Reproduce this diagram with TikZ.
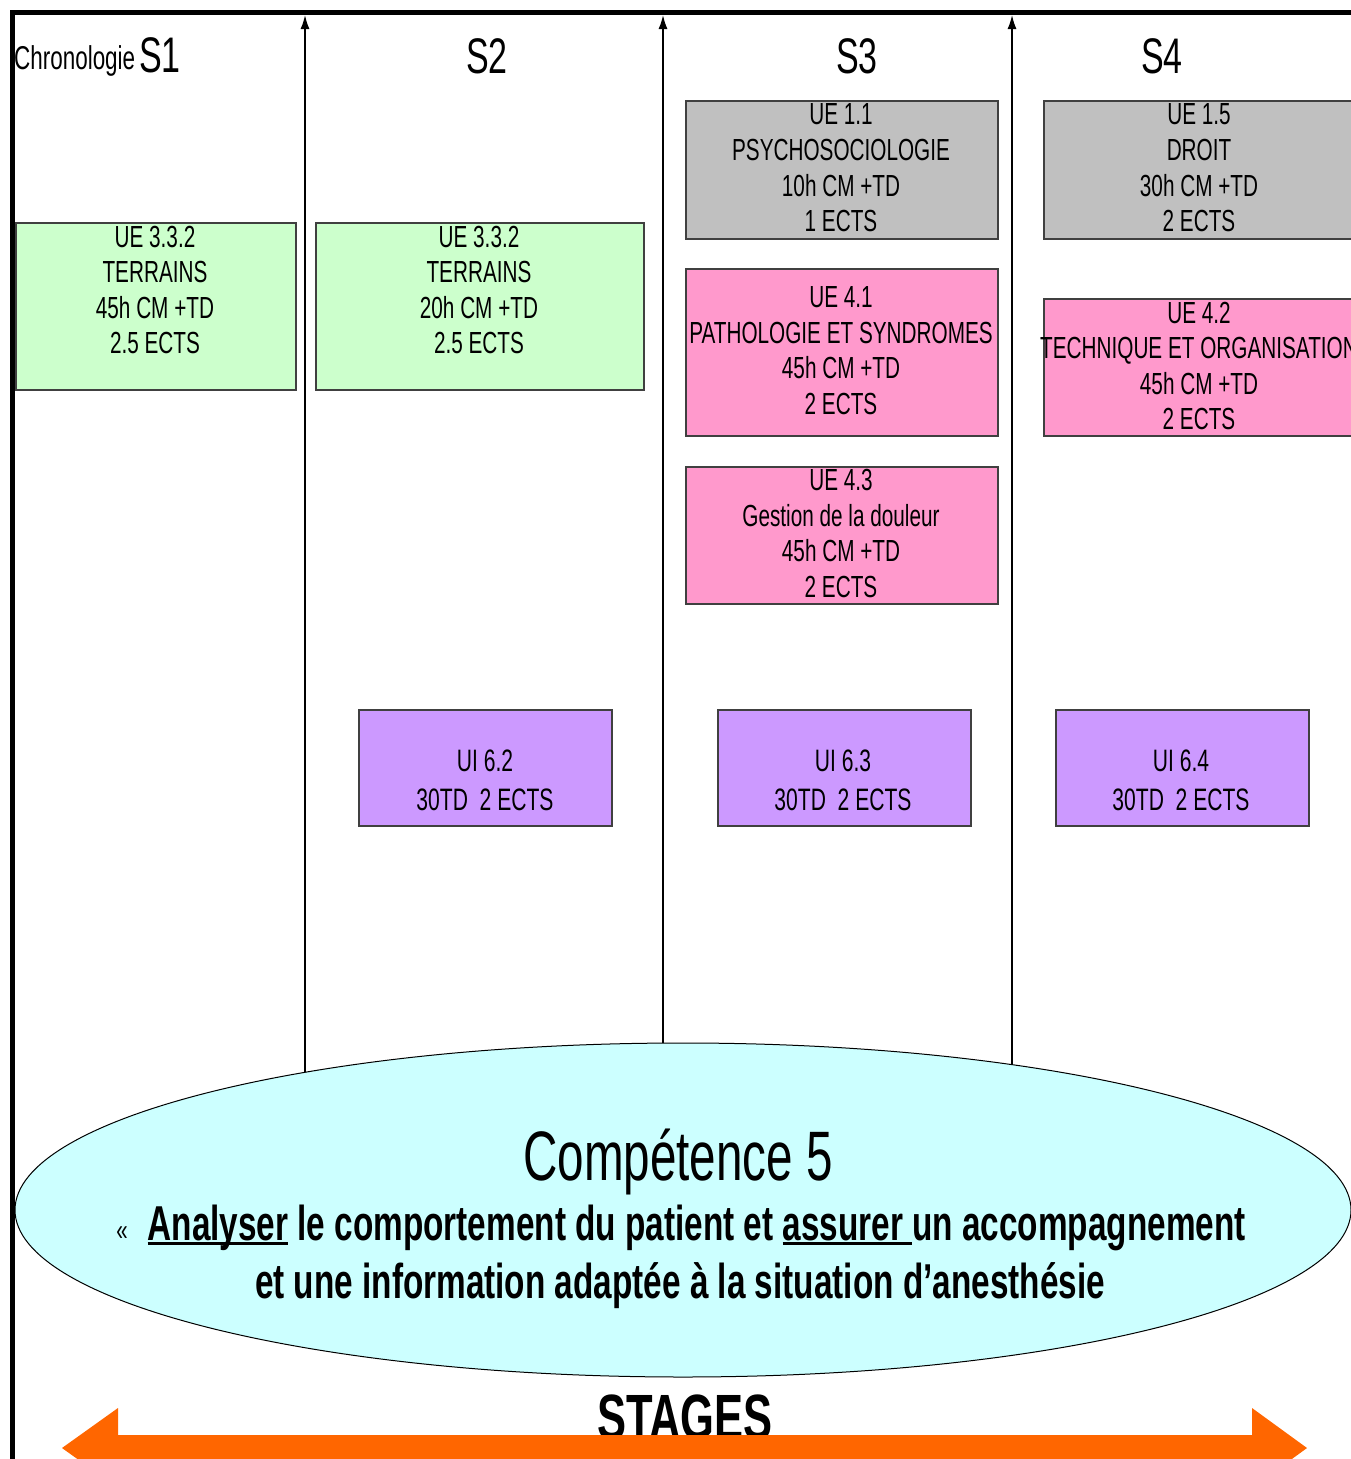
\documentclass[tikz,border=0pt]{standalone}
\usepackage{fontspec}
\setmainfont{Liberation Sans}[FakeStretch=0.68]
\usepackage{xcolor}
\usetikzlibrary{shapes.geometric, arrows.meta, positioning}
\definecolor{vertue}{HTML}{CCFFCC}
\definecolor{grisue}{HTML}{C0C0C0}
\definecolor{roseue}{HTML}{FF99CC}
\definecolor{violetui}{HTML}{CC99FF}
\definecolor{cyancomp}{HTML}{CCFFFF}
\definecolor{orangestage}{HTML}{FF6600}
\tikzstyle{ue} = [rectangle, draw=black!75, line width=1.5pt, anchor=north west,
                  inner sep=0pt]
\tikzstyle{uetexte} = [align=center, inner sep=0pt,
                       font=\fontsize{30.5}{35.6}\selectfont]
\tikzstyle{uitexte} = [align=center, inner sep=0pt,
                       font=\fontsize{31}{39}\selectfont]
\tikzstyle{semestre} = [inner sep=0pt, anchor=base, font=\fontsize{50}{50}\selectfont]
\tikzstyle{fleche} = [line width=1.5pt, -{Latex[length=14pt,width=9pt]}]
\tikzstyle{cadre} = [line width=5pt]
\tikzstyle{compligne} = [inner sep=0pt, anchor=base,
                         font=\bfseries\fontsize{49}{49}\selectfont]
\newcommand{\souligne}[1]{\setbox0\hbox{#1}\rlap{\rule[-5pt]{\wd0}{3pt}}\box0{}}

\begin{document}
\begin{tikzpicture}[x=1pt, y=-1pt]
\clip (0,0) rectangle (1351,1459);
\fill[white] (0,0) rectangle (1351,1459);
% cadre
\draw[cadre] (12.5,1459) -- (12.5,12.5) -- (1351,12.5);
% axes des semestres
\coordinate (f1bas) at (305,1100);
\coordinate (f1haut) at (305,15);
\coordinate (f2bas) at (663,1100);
\coordinate (f2haut) at (663,15);
\coordinate (f3bas) at (1012,1100);
\coordinate (f3haut) at (1012,15);
\draw [fleche] (f1bas) -- (f1haut);
\draw [fleche] (f2bas) -- (f2haut);
\draw [fleche] (f3bas) -- (f3haut);
% titres
\node [anchor=base west, inner sep=0pt, font=\fontsize{33}{33}\selectfont]
	(chrono) at (14,69) {Chronologie};
\node [semestre, anchor=base west] (s1) at (139,72) {S1};
\node [semestre] (s2) at (487,73) {S2};
\node [semestre] (s3) at (857,73) {S3};
\node [semestre] (s4) at (1162,73) {S4};
% S1
\node [ue, fill=vertue, minimum width=280, minimum height=167] (ue332a) at (15,222) {};
\node [uetexte] (ue332a_t) at (155,290) {UE 3.3.2\\TERRAINS\\45h CM +TD\\2.5 ECTS};
% S2
\node [ue, fill=vertue, minimum width=328, minimum height=167] (ue332b) at (315,222) {};
\node [uetexte] (ue332b_t) at (479,290) {UE 3.3.2\\TERRAINS\\20h CM +TD\\2.5 ECTS};
\node [ue, fill=violetui, minimum width=253, minimum height=116] (ui62) at (358,709) {};
\node [uitexte] (ui62_t) at (485,780.5) {UI 6.2\\30TD~~2 ECTS};
% S3
\node [ue, fill=grisue, minimum width=312, minimum height=138] (ue11) at (685,100) {};
\node [uetexte] (ue11_t) at (841,168) {UE 1.1\\PSYCHOSOCIOLOGIE\\10h CM +TD\\1 ECTS};
\node [ue, fill=roseue, minimum width=312, minimum height=167] (ue41) at (685,268) {};
\node [uetexte] (ue41_t) at (841,350.5)
	{UE 4.1\\PATHOLOGIE ET SYNDROMES\\45h CM +TD\\2 ECTS};
\node [ue, fill=roseue, minimum width=312, minimum height=137] (ue43) at (685,466) {};
\node [uetexte] (ue43_t) at (841,533.5)
	{UE 4.3\\Gestion de la douleur\\45h CM +TD\\2 ECTS};
\node [ue, fill=violetui, minimum width=253, minimum height=116] (ui63) at (717,709) {};
\node [uitexte] (ui63_t) at (843,780.5) {UI 6.3\\30TD~~2 ECTS};
% S4
\node [ue, fill=grisue, minimum width=312, minimum height=138] (ue15) at (1043,100) {};
\node [uetexte] (ue15_t) at (1199,168) {UE 1.5\\DROIT\\30h CM +TD\\2 ECTS};
\node [ue, fill=roseue, minimum width=312, minimum height=137] (ue42) at (1043,298) {};
\node [uetexte] (ue42_t) at (1199,366)
	{UE 4.2\\TECHNIQUE ET ORGANISATION\\45h CM +TD\\2 ECTS};
\node [ue, fill=violetui, minimum width=253, minimum height=116] (ui64) at (1055,709) {};
\node [uitexte] (ui64_t) at (1181,780.5) {UI 6.4\\30TD~~2 ECTS};
% competence
\node [ellipse, draw, line width=1pt, fill=cyancomp, inner sep=0pt,
	minimum width=1336, minimum height=334] (comp5) at (683,1210) {};
\node [anchor=base, inner sep=0pt, font=\fontsize{70}{70}\selectfont]
	(comp5_titre) at (678,1180) {Compétence 5};
\node [compligne] (comp5_l1) at (681,1240)
	{{\mdseries\fontsize{30}{30}\selectfont «}\hspace{20pt}\souligne{Analyser} le
	comportement du patient et \souligne{assurer\ }un accompagnement};
\node [compligne] (comp5_l2) at (680,1298)
	{et une information adaptée à la situation d’anesthésie};
% stages
\node [anchor=base, inner sep=0pt, font=\bfseries\fontsize{64}{64}\selectfont]
	(stages) at (685,1439) {STAGES};
\fill [orangestage] (62,1448) -- (118,1408) -- (118,1435) -- (1252,1435)
	-- (1252,1408) -- (1307,1448) -- (1252,1488) -- (1252,1461) -- (118,1461)
	-- (118,1488) -- cycle;
\end{tikzpicture}
\end{document}
